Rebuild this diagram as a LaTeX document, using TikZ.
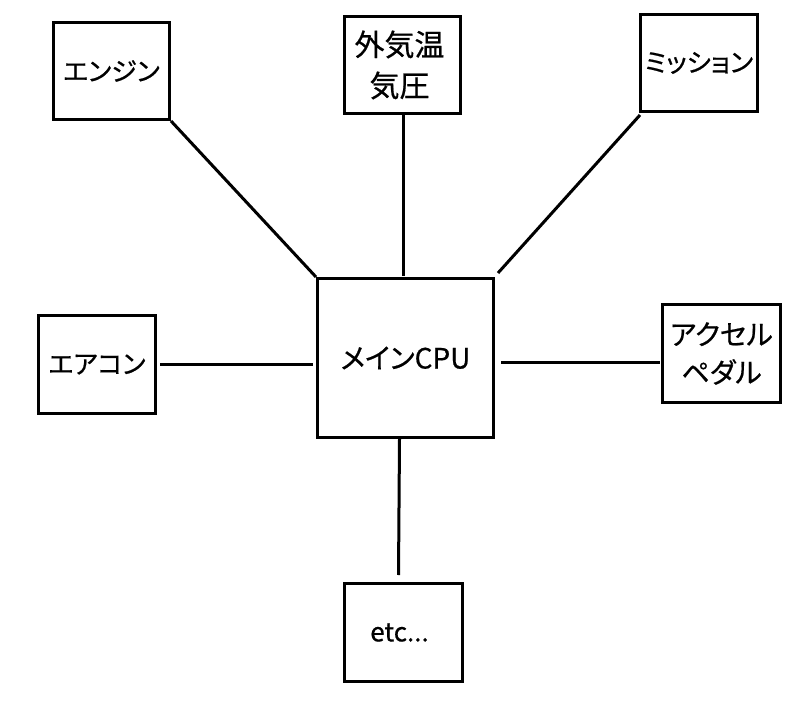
\documentclass[tikz,border=0pt]{standalone}
\usepackage{fontspec}
\newfontfamily\jp[RawFeature={+palt},FakeBold=0.6]{Noto Sans CJK JP}
\usetikzlibrary{calc}
\tikzset{
  box/.style={draw=black, line width=3pt, fill=white, minimum width=116pt, minimum height=97pt, inner sep=0pt, align=center, font=\jp\fontsize{26}{40}\selectfont},
  big/.style={font=\jp\fontsize{28}{38}\selectfont},
  link/.style={draw=black, line width=3pt}
}
\begin{document}
\begin{tikzpicture}[x=1pt,y=-1pt]
\useasboundingbox (0,0) rectangle (800,708);
\node[box] (eng) at (111.5,71) {エンジン};
\node[box, font=\jp\fontsize{30}{41}\selectfont] (kion) at (402.5,65) {\hspace*{-6pt}外気温\\\hspace*{-6pt}気圧};
\node[box, minimum width=117pt] (mis) at (699,63) {ミッション};
\node[box, minimum width=117pt, minimum height=98pt] (ac) at (97,364.5) {エアコン};
\node[box, big, minimum width=176pt, minimum height=159pt] (cpu) at (405.5,358) {メインCPU};
\node[box, big, minimum width=118pt, minimum height=98pt] (acc) at (721.5,353.5) {アクセル\\ペダル};
\node[box, minimum width=118pt, minimum height=98pt] (etc) at (403.5,632.5) {\hspace*{-8pt}etc...};
\draw[link] (eng.south east) -- (cpu.north west);
\draw[link] ($(kion.south)+(0.5,0)$) -- ($(kion.south |- cpu.north)+(0.5,-1)$);
\draw[link] ($(mis.south west)+(1,2)$) -- ($(cpu.north east)+(3,-4)$);
\draw[link] ($(ac.east)+(3,0)$) -- ($(ac.east -| cpu.west)+(-3,0)$);
\draw[link] ($(cpu.east)+(6,4)$) -- ($(cpu.east -| acc.west)+(-1,4)$);
\draw[link] ($(cpu.south)+(-6,0)$) -- ($(etc.north)+(-5,-7)$);
\end{tikzpicture}
\end{document}
